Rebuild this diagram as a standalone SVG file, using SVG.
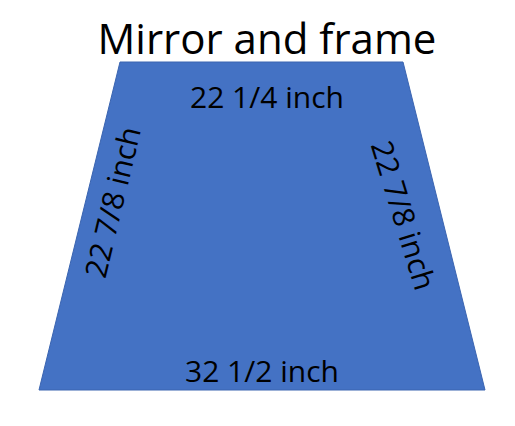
<svg xmlns="http://www.w3.org/2000/svg" width="515" height="426" viewBox="0 0 515 426">
<style>
.lbl{font-family:"Open Sans","Noto Sans","Liberation Sans",sans-serif;font-size:30px;fill:#000;text-anchor:middle}
.title{font-family:"Open Sans","Noto Sans","Liberation Sans",sans-serif;font-size:42px;fill:#000;text-anchor:middle}
</style>
<rect width="515" height="426" fill="#fff"/>
<g id="title"><text class="title" x="267" y="54">Mirror and frame</text></g>
<g id="mirror">
<polygon points="120,62 403,62 485,390 39,390" fill="#4472C4" stroke="#3a64b0" stroke-width="1"/>
<text class="lbl" x="267" y="108">22 1/4 inch</text>
<text class="lbl" x="262" y="382">32 1/2 inch</text>
<text class="lbl" x="0" y="0" dominant-baseline="central" transform="translate(112,202) rotate(-76.5)">22 7/8 inch</text>
<text class="lbl" x="0" y="0" dominant-baseline="central" transform="translate(404,215) rotate(73)">22 7/8 inch</text>
</g>
</svg>
